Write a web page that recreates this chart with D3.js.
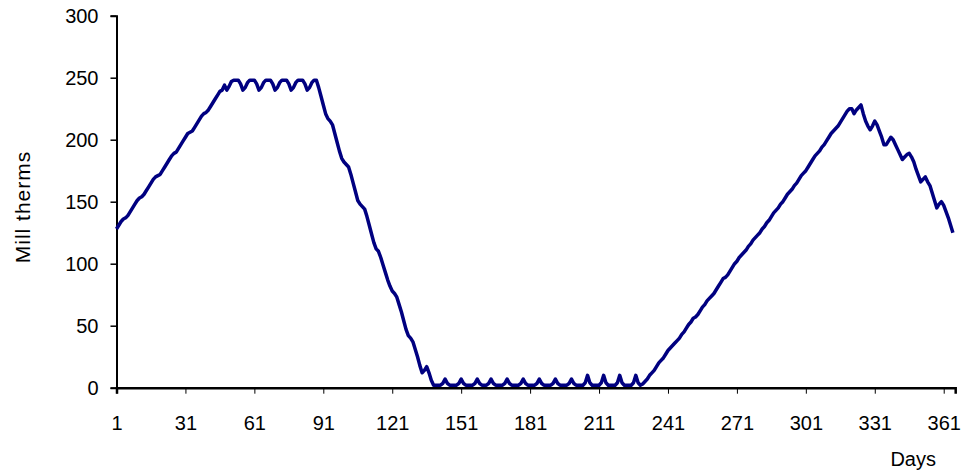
<!DOCTYPE html>
<html>
<head>
<meta charset="utf-8">
<script src="https://cdn.jsdelivr.net/npm/d3@7"></script>
<style>
  html, body { margin: 0; padding: 0; background: #fff; }
  svg { display: block; }
  text { font-family: "Liberation Sans", Arial, sans-serif; fill: #000; }
</style>
</head>
<body>
<svg id="chart" width="966" height="473"></svg>
<script>
// ---- data ----
const storage = [
  128,131,134,136,137,139,142,145,148,151,
  153,154,156,159,162,165,168,170,171,172,
  175,178,181,184,187,189,190,193,196,199,
  202,205,206,207,210,213,216,219,221,222,
  224,227,230,233,236,239,240,244,240,243,
  247,248,248,248,245,240,242,246,248,248,
  248,245,240,242,246,248,248,248,245,240,
  242,246,248,248,248,245,240,242,246,248,
  248,248,245,240,242,246,248,248,242,235,
  228,221,217,215,212,205,198,191,185,182,
  180,178,172,165,158,151,148,146,144,138,
  131,124,117,112,110,105,99,93,87,82,
  78,76,73,67,61,54,47,42,40,37,
  31,25,18,12,14,17,12,6,2,2,
  2,2,3.5,7,3.5,2,2,2,2,3.5,
  7,3.5,2,2,2,2,3.5,7,3.5,2,
  2,2,3.5,7,3.5,2,2,2,2,3.5,
  7,3.5,2,2,2,2,3.5,7,3.5,2,
  2,2,2,3.5,7,3.5,2,2,2,2,
  3.5,7,3.5,2,2,2,2,3.5,7,3.5,
  2,2,2,2,4,10,4,2,2,2,
  2,4,10,4,2,2,2,2,4,10,
  4,2,2,2,2,4,10,4,2,3,
  5,7,10,12,14,17,20,22,24,27,
  30,32,34,36,38,40,43,45,48,51,
  53,56,57,59,62,65,67,70,72,74,
  76,79,82,85,88,89,91,94,97,100,
  102,105,107,109,111,114,116,119,121,123,
  125,128,130,133,135,138,141,143,145,148,
  150,153,156,158,160,163,165,168,171,173,
  175,178,181,184,187,189,191,194,196,199,
  202,205,207,209,211,214,217,220,223,225,
  225,221,224,226,228,221,215,211,208,211,
  215,212,207,202,196,196,199,202,200,196,
  192,188,184,186,188,189,186,182,176,171,
  166,168,170,166,163,157,151,145,148,150,
  147,142,137,131,125
];
const days = storage.map((_, i) => i + 1);
const xTickDays = [1, 31, 61, 91, 121, 151, 181, 211, 241, 271, 301, 331, 361];
const yTicks = [0, 50, 100, 150, 200, 250, 300];
const xAxisTitle = "Days";
const yAxisTitle = "Mill therms";

// ---- layout ----
const svg = d3.select("#chart");
const x = d3.scaleLinear().domain([1, 366]).range([116.5, 955.2]);
const y = d3.scaleLinear().domain([0, 300]).range([387.7, 15.7]);

// y axis
const yAxis = d3.axisLeft(y).tickValues(yTicks).tickSize(6).tickPadding(12).tickFormat(d3.format("d"));
const gy = svg.append("g").attr("transform", `translate(${x(1)},0)`).call(yAxis);
gy.select(".domain").attr("stroke", "#000").attr("stroke-width", 2);
gy.selectAll(".tick line").attr("stroke", "#000").attr("stroke-width", 1.5);
gy.selectAll(".tick text").attr("font-size", 20).style("font-family", '"Liberation Sans", Arial, sans-serif');

// x axis
const xAxis = d3.axisBottom(x).tickValues(xTickDays).tickSize(6).tickPadding(22).tickFormat(d => String(d));
const gx = svg.append("g").attr("transform", `translate(0,${y(0)})`).call(xAxis);
gx.select(".domain").attr("stroke", "#000").attr("stroke-width", 2.5);
gx.selectAll(".tick line").attr("stroke", "#000").attr("stroke-width", 1);
gx.selectAll(".tick text").attr("font-size", 20).style("font-family", '"Liberation Sans", Arial, sans-serif');

// line
const line = d3.line().x((d, i) => x(days[i])).y(d => y(d));
svg.append("path")
  .datum(storage)
  .attr("fill", "none")
  .attr("stroke", "#000080")
  .attr("stroke-width", 3.5)
  .attr("stroke-linejoin", "round")
  .attr("d", line);

// titles
svg.append("text")
  .attr("x", 936).attr("y", 466)
  .attr("text-anchor", "end")
  .attr("font-size", 20)
  .text(xAxisTitle);

svg.append("text")
  .attr("transform", "translate(30,207) rotate(-90)")
  .attr("text-anchor", "middle")
  .attr("font-size", 21)
  .attr("letter-spacing", 1)
  .text(yAxisTitle);
</script>
</body>
</html>
